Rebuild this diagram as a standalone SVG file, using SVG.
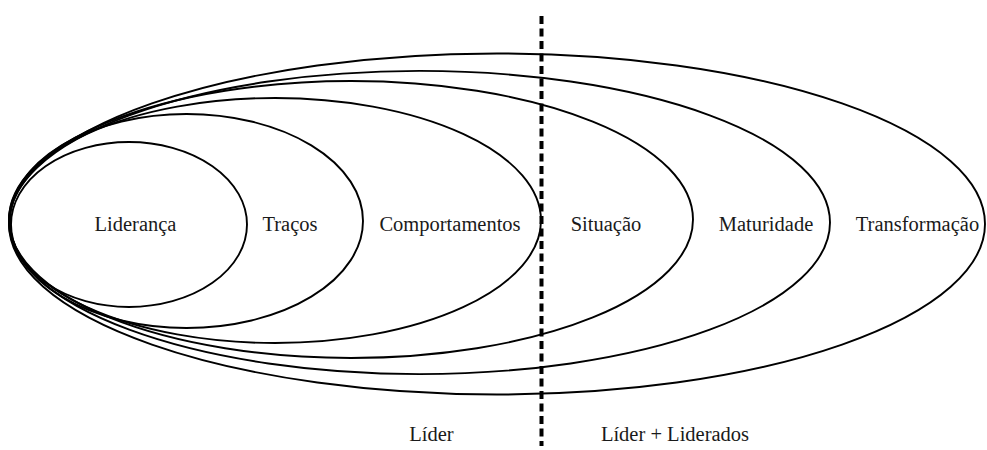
<svg xmlns="http://www.w3.org/2000/svg" width="987" height="450" viewBox="0 0 987 450">
  <style>
    .ring { fill: none; stroke: #000; stroke-width: 1.9; }
    .label { font-size: 20.5px; fill: #1a1a1a; text-anchor: middle; }
    .divider { stroke: #000; stroke-width: 4; stroke-dasharray: 8 4.5; fill: none; }
  </style>
  <rect width="987" height="450" fill="#fff"/>

  <g font-family="'Liberation Serif', 'Times New Roman', Times, serif">
    <!-- nested levels, outermost first, all touching at the left -->
    <g id="transformacao">
      <ellipse class="ring" cx="497" cy="224" rx="488" ry="170.5"/>
      <text class="label" x="917.5" y="231">Transformação</text>
    </g>
    <g id="maturidade">
      <ellipse class="ring" cx="419.5" cy="222.5" rx="410.5" ry="151.6"/>
      <text class="label" x="766" y="231">Maturidade</text>
    </g>
    <g id="situacao">
      <ellipse class="ring" cx="351" cy="219.5" rx="342" ry="138.5"/>
      <text class="label" x="606" y="231">Situação</text>
    </g>
    <g id="comportamentos">
      <ellipse class="ring" cx="275" cy="220.5" rx="266" ry="122.5"/>
      <text class="label" x="450" y="231">Comportamentos</text>
    </g>
    <g id="tracos">
      <ellipse class="ring" cx="186.5" cy="221" rx="176.5" ry="107"/>
      <text class="label" x="290" y="231">Traços</text>
    </g>
    <g id="lideranca">
      <ellipse class="ring" cx="129" cy="224.5" rx="118" ry="82.5"/>
      <text class="label" x="135.5" y="231">Liderança</text>
    </g>

    <!-- split between leader-only and leader + followers views -->
    <g id="connectors">
      <line class="divider" x1="541.5" y1="16" x2="541.5" y2="446"/>
    </g>

    <g id="lider">
      <text class="label" x="431.5" y="441">Líder</text>
    </g>
    <g id="lider-liderados">
      <text class="label" x="675" y="441">Líder + Liderados</text>
    </g>
  </g>
</svg>
